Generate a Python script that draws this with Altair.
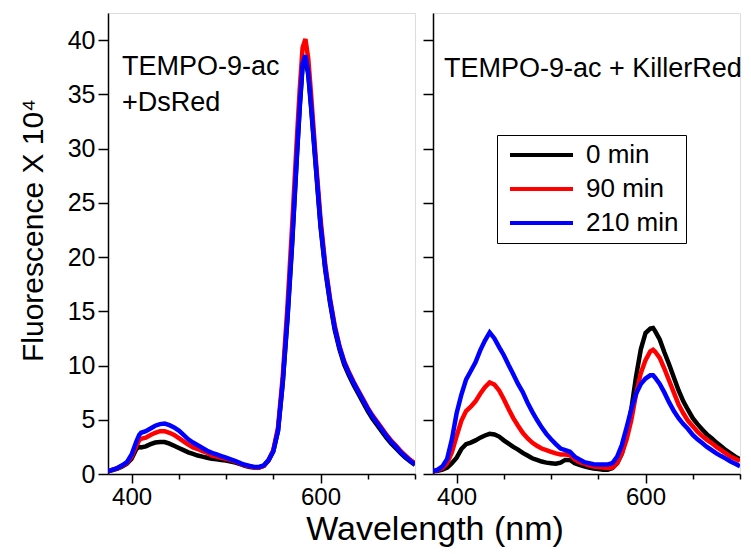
import altair as alt
import pandas as pd

FONT = "Liberation Sans"

# ---------------- data ----------------
series_names = ["0 min", "90 min", "210 min"]
series_colors = ["#000000", "#ff0000", "#0000ff"]

wl_left = [375, 380, 385, 390, 395, 400, 405, 408, 410, 415, 420, 425, 430, 435, 440,
           445, 450, 455, 460, 465, 470, 475, 480, 485, 490, 495, 500, 505, 510, 515,
           520, 525, 530, 535, 540, 545, 550, 555, 560, 565, 570, 575, 578, 581, 584,
           587, 590, 595, 600, 605, 610, 615, 620, 625, 630, 635, 640, 645, 650, 655,
           660, 665, 670, 675, 680, 685, 690, 695, 700]

dsred_0 = [0.25, 0.35, 0.5, 0.7, 0.95, 1.4, 2.3, 2.5, 2.45, 2.55, 2.75, 2.9, 2.95, 2.95, 2.8,
           2.6, 2.4, 2.2, 2.0, 1.85, 1.7, 1.6, 1.5, 1.4, 1.35, 1.3, 1.25, 1.15, 1.05, 0.9,
           0.75, 0.65, 0.6, 0.6, 0.75, 1.25, 2.1, 4.0, 8.4, 14.3, 21.3, 29.3, 33.8, 37.6, 38.4,
           36.8, 33.8, 28.3, 22.8, 18.8, 15.8, 13.3, 11.5, 10.1, 9.1, 8.2, 7.4, 6.6, 5.8, 5.1,
           4.5, 3.9, 3.3, 2.8, 2.35, 1.9, 1.5, 1.15, 0.85]
dsred_90 = [0.25, 0.4, 0.55, 0.75, 1.0, 1.6, 2.6, 3.1, 3.25, 3.35, 3.6, 3.8, 3.95, 3.95, 3.8,
            3.6, 3.3, 3.0, 2.7, 2.45, 2.3, 2.1, 1.95, 1.7, 1.6, 1.5, 1.4, 1.28, 1.15, 0.95,
            0.8, 0.7, 0.6, 0.6, 0.75, 1.3, 2.2, 4.3, 9.0, 15.5, 23.0, 31.0, 35.5, 39.3, 40.1,
            38.3, 35.0, 29.0, 23.5, 19.3, 16.2, 13.7, 11.8, 10.4, 9.4, 8.5, 7.7, 6.9, 6.1, 5.4,
            4.8, 4.2, 3.6, 3.05, 2.6, 2.1, 1.7, 1.3, 1.0]
dsred_210 = [0.25, 0.4, 0.55, 0.8, 1.1, 1.8, 3.0, 3.6, 3.8, 3.95, 4.2, 4.45, 4.6, 4.65, 4.5,
             4.3, 4.0, 3.6, 3.2, 2.9, 2.65, 2.4, 2.15, 1.95, 1.8, 1.65, 1.5, 1.35, 1.2, 1.0,
             0.85, 0.75, 0.65, 0.65, 0.8, 1.3, 2.1, 4.0, 8.5, 14.5, 21.5, 29.5, 34.0, 37.8, 38.6,
             37.0, 34.0, 28.5, 23.0, 19.0, 16.0, 13.5, 11.7, 10.3, 9.3, 8.4, 7.6, 6.8, 6.0, 5.3,
             4.7, 4.1, 3.5, 2.95, 2.5, 2.0, 1.6, 1.2, 0.9]

wl_right = [375, 380, 385, 390, 395, 400, 405, 410, 415, 420, 425, 430, 435, 440, 445,
            450, 455, 460, 465, 470, 475, 480, 485, 490, 495, 500, 505, 510, 515, 520,
            525, 530, 535, 540, 545, 550, 555, 560, 565, 570, 575, 580, 585, 590, 595,
            600, 605, 608, 610, 615, 620, 625, 630, 635, 640, 645, 650, 655, 660, 665,
            670, 675, 680, 685, 690, 695, 700]

killer_0 = [0.25, 0.3, 0.4, 0.6, 1.0, 1.5, 2.3, 2.75, 2.9, 3.1, 3.35, 3.55, 3.7, 3.65, 3.45,
            3.1, 2.8, 2.5, 2.25, 1.95, 1.7, 1.45, 1.3, 1.15, 1.05, 1.0, 0.95, 1.05, 1.3, 1.3,
            1.0, 0.85, 0.7, 0.6, 0.5, 0.45, 0.4, 0.4, 0.55, 1.0, 1.9, 3.6, 6.0, 9.0, 11.5,
            13.0, 13.4, 13.45, 13.2, 12.4, 11.2, 10.1, 8.9, 7.7, 6.7, 5.9, 5.15, 4.6, 4.1, 3.65,
            3.3, 2.9, 2.55, 2.2, 1.9, 1.6, 1.35]
killer_90 = [0.25, 0.35, 0.55, 1.0, 2.0, 3.5, 4.9, 5.8, 6.2, 6.7, 7.4, 8.0, 8.45, 8.25, 7.7,
             6.9, 6.0, 5.15, 4.45, 3.8, 3.3, 2.9, 2.6, 2.35, 2.2, 2.05, 1.9, 1.8, 1.8, 1.75,
             1.35, 1.1, 0.95, 0.8, 0.7, 0.65, 0.6, 0.55, 0.6, 1.0, 1.9, 3.2, 5.0, 7.4, 9.3,
             10.5, 11.3, 11.45, 11.3, 10.7, 9.7, 8.6, 7.5, 6.4, 5.6, 4.9, 4.4, 3.9, 3.5, 3.15,
             2.85, 2.5, 2.2, 1.9, 1.6, 1.4, 1.2]
killer_210 = [0.25, 0.4, 0.7, 1.4, 3.2, 5.6, 7.3, 8.7, 9.5, 10.3, 11.4, 12.3, 13.05, 12.5, 11.7,
              10.95, 10.05, 9.2, 8.3, 7.55, 6.6, 5.75, 5.0, 4.3, 3.7, 3.2, 2.75, 2.35, 2.2, 2.05,
              1.6, 1.35, 1.1, 1.0, 0.9, 0.88, 0.88, 0.88, 1.0, 1.6, 2.7, 4.3, 6.0, 7.4, 8.3,
              8.8, 9.1, 9.1, 8.9, 8.3, 7.5, 6.6, 5.8, 5.15, 4.6, 4.15, 3.6, 3.2, 2.85, 2.5,
              2.2, 1.9, 1.65, 1.42, 1.15, 0.95, 0.72]

x_ticks = [400, 450, 500, 550, 600, 650, 700]
y_ticks = [i * 2.5 for i in range(18)]

left_labels = ["TEMPO-9-ac", "+DsRed"]
left_label_x = [389.8, 389.8]
left_label_y = [36.75, 33.5]
right_labels = ["TEMPO-9-ac + KillerRed"]
right_label_x = [386.6]
right_label_y = [36.6]


def long_df(wl, cols):
    rows = []
    for name, vals in zip(series_names, cols):
        for w, v in zip(wl, vals):
            rows.append({"wl": w, "value": v, "series": name})
    return pd.DataFrame(rows)


df_left = long_df(wl_left, [dsred_0, dsred_90, dsred_210])
df_right = long_df(wl_right, [killer_0, killer_90, killer_210])
ann_left = pd.DataFrame({"text": left_labels, "x": left_label_x, "y": left_label_y})
ann_right = pd.DataFrame({"text": right_labels, "x": right_label_x, "y": right_label_y})

W, H = 307, 461

xscale = alt.Scale(domain=[375, 700], nice=False, zero=False)
yscale = alt.Scale(domain=[0, 42.5], nice=False)


def x_axis():
    return alt.Axis(values=x_ticks, title=None, grid=False,
                    labelExpr="datum.value == 400 || datum.value == 600 ? datum.label : ''",
                    tickSize={"expr": "datum.value == 400 || datum.value == 600 ? 9 : 5"},
                    labelPadding=2, labelFontSize=24, labelFont=FONT, labelColor="black",
                    domainColor="black", domainWidth=1.5, tickColor="black", tickWidth=1.5)


def y_axis(show):
    kw = dict(values=y_ticks, grid=False,
              tickSize={"expr": "datum.value % 5 == 0 ? 10 : 5"},
              domainColor="black", domainWidth=1.5, tickColor="black", tickWidth=1.5)
    if show:
        return alt.Axis(title="Fluorescence X 10\u2074", titleFontSize=30, titleFont=FONT,
                        titleFontWeight="normal", titleColor="black", titlePadding=19,
                        titleY=217,
                        labelExpr="datum.value % 5 == 0 ? datum.label : ''",
                        labelPadding=3, labelFontSize=25, labelFont=FONT, labelColor="black",
                        **kw)
    return alt.Axis(title=None, labels=False, **kw)


color_scale = alt.Scale(domain=series_names, range=series_colors)


def panel(df, ann, show_y, legend):
    lines = alt.Chart(df).mark_line(strokeWidth=4.5, clip=True).encode(
        x=alt.X("wl:Q", scale=xscale, axis=x_axis()),
        y=alt.Y("value:Q", scale=yscale, axis=y_axis(show_y)),
        color=alt.Color("series:N", scale=color_scale, legend=legend),
        detail="series:N",
    )
    text = alt.Chart(ann).mark_text(align="left", baseline="alphabetic", fontSize=27,
                                    font=FONT, color="black").encode(
        x=alt.X("x:Q", scale=xscale), y=alt.Y("y:Q", scale=yscale), text="text:N")
    return alt.layer(lines, text).properties(width=W, height=H)


legend = alt.Legend(orient="none", legendX=64, legendY=122, title=None,
                    symbolType="stroke", symbolSize=3969, symbolStrokeWidth=4,
                    labelFontSize=26, labelFont=FONT, labelColor="black",
                    strokeColor="black", fillColor="white", padding=7, clipHeight=26,
                    rowPadding=8, symbolOffset=4, labelOffset=11)

left = panel(df_left, ann_left, True, None)
right = panel(df_right, ann_right, False, legend)

chart = alt.hconcat(left, right, spacing=4).resolve_scale(color="independent").properties(
    title=alt.TitleParams(text="Wavelength (nm)", orient="bottom", anchor="middle",
                          frame="group", fontSize=34, font=FONT, fontWeight="normal",
                          color="black", offset=0, dx=327, dy=3),
    padding={"left": 9, "top": 4, "right": 0, "bottom": 0},
).configure_view(stroke=None).configure(background="white")

chart.save("out.html", embed_options={"renderer": "svg", "actions": False})
